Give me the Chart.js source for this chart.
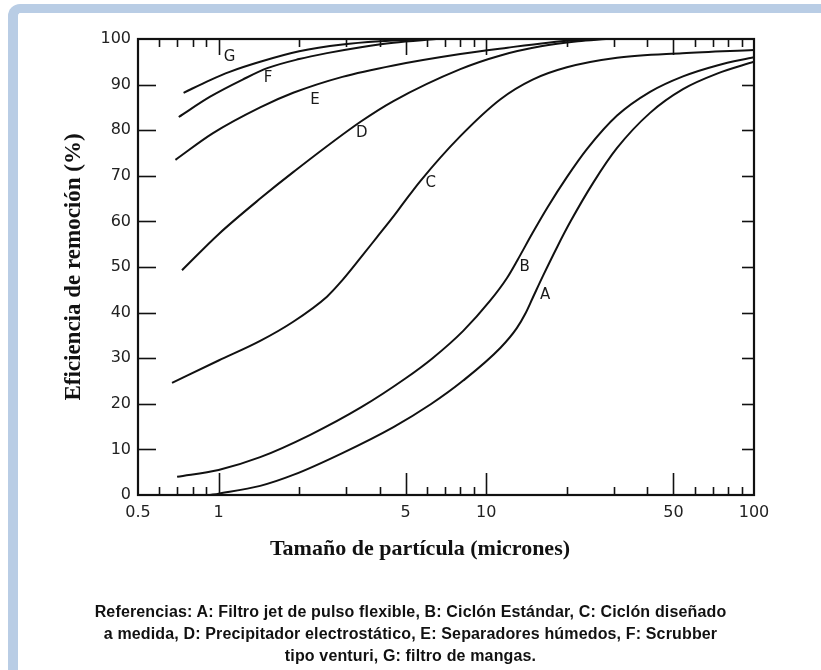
<!DOCTYPE html>
<html>
<head>
<meta charset="utf-8">
<script src="https://cdn.jsdelivr.net/npm/chart.js@4.4.1/dist/chart.umd.min.js"></script>
<style>
  html, body { margin:0; padding:0; background:#fff; width:821px; height:670px; overflow:hidden; }
  #frame { position:absolute; left:8px; top:4px; right:-20px; bottom:-20px;
           border-top:9px solid #b9cde5; border-left:10px solid #b9cde5;
           border-top-left-radius:12px; background:#fff; }
  #c { position:absolute; left:0; top:0; }
  #xtitle { position:absolute; left:220px; width:400px; top:535px; line-height:26px; text-align:center;
            font-family:"Liberation Serif", serif; font-weight:bold; font-size:22px; color:#111; }
  #refs { position:absolute; left:0; width:821px; top:601px; line-height:22px; text-align:center;
          font-family:"Liberation Sans", Arial, sans-serif; font-weight:bold; font-size:16px;
          letter-spacing:0.15px; color:#111; }
</style>
</head>
<body>
<div id="frame"></div>
<canvas id="c" width="821" height="670"></canvas>
<div id="xtitle">Tamaño de partícula (micrones)</div>
<div id="refs">Referencias: A: Filtro jet de pulso flexible, B: Ciclón Estándar, C: Ciclón diseñado<br>a medida, D: Precipitador electrostático, E: Separadores húmedos, F: Scrubber<br>tipo venturi, G: filtro de mangas.</div>
<script>
// ---- Data (particle size in microns, removal efficiency in %) ----
const sizesA = [0.93, 1.0, 1.43, 1.9, 2.9, 4.5, 6.2, 8.2, 11.3, 13.0, 14.0, 14.9, 16.3, 18.4, 20.6, 25.1, 30.8, 40.9, 54.3, 72.8, 100];
const effA   = [0, 0.3, 2.0, 4.4, 9.2, 14.9, 19.9, 25.1, 32.3, 36.6, 39.8, 43.2, 48.1, 54.4, 59.9, 68.5, 76.1, 83.8, 89.0, 92.4, 95.0];

const sizesB = [0.70, 1.0, 1.43, 2.2, 3.4, 5.0, 6.3, 8.2, 10.3, 11.95, 13.1, 14.9, 16.9, 20.0, 23.8, 30.8, 40.9, 54.3, 72.8, 100];
const effB   = [4.0, 5.5, 8.3, 13.2, 19.2, 25.6, 30.0, 36.0, 42.5, 47.6, 51.6, 57.5, 63.0, 69.7, 75.9, 83.2, 88.4, 91.8, 94.2, 96.0];

const sizesC = [0.67, 1.0, 1.43, 1.9, 2.54, 2.84, 3.4, 3.9, 4.5, 4.9, 5.66, 8.0, 11.3, 14.9, 20, 30.8, 54, 100];
const effC   = [24.6, 29.5, 33.8, 38.0, 43.5, 46.5, 52.1, 56.5, 61.1, 64.0, 68.8, 78.7, 86.8, 91.1, 93.8, 95.9, 96.9, 97.6];

const sizesD = [0.73, 1.0, 1.43, 1.9, 3.4, 4.5, 8.0, 11.3, 16, 22, 28];
const effD   = [49.3, 57.2, 65.0, 70.8, 81.9, 86.4, 93.4, 96.4, 98.4, 99.5, 100];

const sizesE = [0.69, 0.95, 1.43, 1.9, 2.9, 4.5, 8.0, 12, 17, 22, 26];
const effE   = [73.5, 79.3, 85.0, 88.2, 91.7, 94.2, 96.7, 98.1, 99.2, 99.8, 100];

const sizesF = [0.71, 0.93, 1.23, 1.52, 2.0, 2.54, 3.4, 4.5, 6.5];
const effF   = [82.9, 87.35, 91.1, 93.6, 95.6, 96.9, 98.2, 99.2, 100];

const sizesG = [0.74, 0.93, 1.1, 1.43, 2.0, 2.9, 4.0, 6.0];
const effG   = [88.2, 91, 92.8, 95, 97.3, 98.8, 99.5, 100];

// Curve letter labels placed in data coordinates
const curveLetters = ['A', 'B', 'C', 'D', 'E', 'F', 'G'];
const letterSizes  = [16.6, 13.9, 6.2, 3.43, 2.29, 1.53, 1.10];
const letterEffs   = [43.9, 50, 68.4, 79.4, 86.6, 91.5, 96.0];

// Axis ticks
const xTickValues = [0.5, 1, 5, 10, 50, 100];
const xTickLabels = ['0.5', '1', '5', '10', '50', '100'];
const xMajorMarks = [1, 5, 10, 50];
const xMinorMarks = [0.6, 0.7, 0.8, 0.9, 2, 3, 4, 6, 7, 8, 9, 20, 30, 40, 60, 70, 80, 90];
const yMarks = [10, 20, 30, 40, 50, 60, 70, 80, 90];

const yTitle = 'Eficiencia de remoción (%)';

function series(xs, ys) { return xs.map((x, i) => ({ x: x, y: ys[i] })); }
const allSeries = [
  series(sizesA, effA), series(sizesB, effB), series(sizesC, effC), series(sizesD, effD),
  series(sizesE, effE), series(sizesF, effF), series(sizesG, effG)
];

const frameTicks = {
  id: 'frameTicks',
  afterDatasetsDraw(chart) {
    const { ctx, chartArea: a, scales: { x, y } } = chart;
    ctx.save();
    ctx.strokeStyle = '#111';
    ctx.lineWidth = 2.2;
    ctx.lineCap = 'butt';
    ctx.strokeRect(a.left, a.top, a.right - a.left, a.bottom - a.top);
    ctx.lineWidth = 1.6;
    const vt = (v, len, top) => {
      const px = Math.round(x.getPixelForValue(v)) + 0.5;
      ctx.beginPath();
      if (top) { ctx.moveTo(px, a.top); ctx.lineTo(px, a.top + len); }
      else { ctx.moveTo(px, a.bottom); ctx.lineTo(px, a.bottom - len); }
      ctx.stroke();
    };
    xMajorMarks.forEach(v => { vt(v, 22, false); vt(v, 16, true); });
    xMinorMarks.forEach(v => { vt(v, 8, false); vt(v, 8, true); });
    yMarks.forEach(v => {
      const py = Math.round(y.getPixelForValue(v)) + 0.5;
      ctx.beginPath(); ctx.moveTo(a.left, py); ctx.lineTo(a.left + 18, py); ctx.stroke();
      ctx.beginPath(); ctx.moveTo(a.right, py); ctx.lineTo(a.right - 12, py); ctx.stroke();
    });
    // curve letters
    ctx.fillStyle = '#1a1a1a';
    ctx.font = '15px "DejaVu Sans"';
    ctx.textAlign = 'center';
    ctx.textBaseline = 'middle';
    curveLetters.forEach((t, i) => {
      ctx.fillText(t, x.getPixelForValue(letterSizes[i]), y.getPixelForValue(letterEffs[i]));
    });
    ctx.restore();
  }
};

new Chart(document.getElementById('c'), {
  type: 'line',
  data: {
    datasets: allSeries.map((d, i) => ({
      label: curveLetters[i],
      data: d,
      borderColor: '#111',
      borderWidth: 2,
      pointRadius: 0,
      fill: false,
      cubicInterpolationMode: 'monotone'
    }))
  },
  options: {
    responsive: false,
    animation: false,
    devicePixelRatio: 1,
    layout: { padding: { left: 0, top: 39, right: 67, bottom: 105 } },
    plugins: { legend: { display: false }, tooltip: { enabled: false } },
    scales: {
      x: {
        type: 'logarithmic', min: 0.5, max: 100,
        afterFit: s => { s.height = 70; },
        afterBuildTicks: s => { s.ticks = xTickValues.map(v => ({ value: v })); },
        grid: { display: false, drawTicks: false },
        border: { display: false },
        ticks: {
          autoSkip: false, maxRotation: 0, padding: 8, color: '#222',
          font: { family: 'DejaVu Sans', size: 16 },
          callback: (v, i) => xTickLabels[i]
        }
      },
      y: {
        type: 'linear', min: 0, max: 100,
        afterFit: s => { s.width = 138; },
        grid: { display: false, drawTicks: false },
        border: { display: false },
        ticks: { stepSize: 10, padding: 7, color: '#222', font: { family: 'DejaVu Sans', size: 16 } },
        title: {
          display: true, text: yTitle, color: '#111',
          font: { family: 'Liberation Serif', size: 23, weight: 'bold' },
          padding: { top: 60, bottom: 0 }
        }
      }
    }
  },
  plugins: [frameTicks]
});
</script>
</body>
</html>
